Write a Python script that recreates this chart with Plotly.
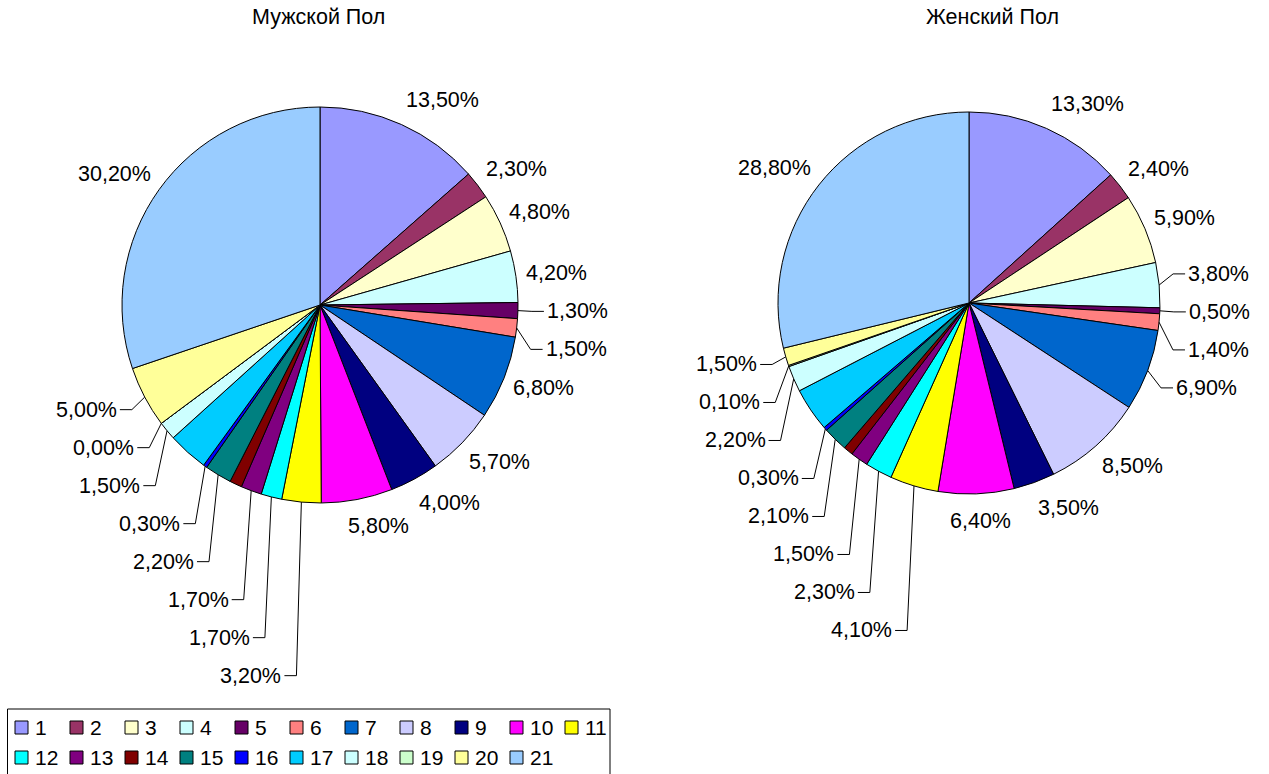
import math
import plotly.graph_objects as go

W, H = 1269, 774

# ---- data -------------------------------------------------------------
categories = ["1", "2", "3", "4", "5", "6", "7", "8", "9", "10", "11",
              "12", "13", "14", "15", "16", "17", "18", "19", "20", "21"]

male_share = [13.5, 2.3, 4.8, 4.2, 1.3, 1.5, 6.8, 5.7, 4.0, 5.8, 3.2,
              1.7, 1.7, 1.0, 2.2, 0.3, 3.3, 1.5, 0.0, 5.0, 30.2]

female_share = [13.3, 2.4, 5.9, 3.8, 0.5, 1.4, 6.9, 8.5, 3.5, 6.4, 4.1,
                2.3, 1.5, 0.8, 2.1, 0.3, 3.7, 2.2, 0.1, 1.5, 28.8]

panel_titles = ["Мужской Пол", "Женский Пол"]

# categories whose percentage is not printed next to the slice
unlabelled = ["14", "17"]

palette = ["#9999FF", "#993366", "#FFFFCC", "#CCFFFF", "#660066", "#FF8080",
           "#0066CC", "#CCCCFF", "#000080", "#FF00FF", "#FFFF00", "#00FFFF",
           "#800080", "#800000", "#008080", "#0000FF", "#00CCFF", "#CCFFFF",
           "#CCFFCC", "#FFFF99", "#99CCFF"]

# ---- layout constants (pixels) -----------------------------------------
FONT = "Liberation Sans, Arial, sans-serif"
LABEL_SIZE = 21.5
LEGEND_SIZE = 21
panels = [dict(cx=320, cy=305, r=198, tx=319),
          dict(cx=969, cy=303, r=191, tx=992)]
TITLE_Y = 17.5
LABEL_GAP = 10        # distance of label from the rim
LABEL_HALF_H = 17     # vertical half extent used for placement
ROW_STEP = 38         # minimum vertical distance between colliding labels
LEADER_SHIFT = 19     # extra horizontal offset of labels with a leader


def px_x(x):
    return x / W


def px_y(y):
    return 1 - y / H


CHAR_W = {",": 0.278, "%": 0.889, ".": 0.278}


def text_width(s, size):
    return sum(CHAR_W.get(ch, 0.556) for ch in s) * size


def fmt_pct(v):
    return f"{v:.2f}".replace(".", ",") + "%"


def place_labels(values, cx, cy, r):
    total = sum(values)
    items = []
    cum = 0.0
    for cat, v in zip(categories, values):
        th = 2 * math.pi * (cum + v / 2) / total
        cum += v
        if cat in unlabelled:
            continue
        text = fmt_pct(100 * v / total)
        s, c = math.sin(th), math.cos(th)
        R = r + LABEL_GAP
        px, py = cx + R * s, cy - R * c
        w = text_width(text, LABEL_SIZE)
        k = max(-1.0, min(1.0, s / 0.3))
        items.append(dict(text=text, s=s, c=c, w=w, px=px,
                          x=px + k * w / 2, y0=py - LABEL_HALF_H * c,
                          ex=cx + r * s, ey=cy - r * c, lead=False))
    for right in (True, False):
        group = [it for it in items if (it["s"] >= 0) == right]
        if not group:
            continue
        group.sort(key=lambda it: it["y0"])
        anchor = min(group, key=lambda it: abs(it["c"]))
        for it in group:
            it["y"] = it["y0"]
        below = [it for it in group if it["y0"] > anchor["y0"]]
        above = [it for it in group if it["y0"] < anchor["y0"]][::-1]
        for seq, sign in ((below, 1), (above, -1)):
            placed = [anchor]
            for it in seq:
                for p in placed:
                    xo = abs(it["x"] - p["x"]) < (it["w"] + p["w"]) / 2 + 4
                    if xo and sign * (p["y"] + sign * ROW_STEP - it["y"]) > 0:
                        it["y"] = p["y"] + sign * ROW_STEP
                        if abs(it["y"] - it["y0"]) > 3:
                            it["lead"] = True
                            p["lead"] = True
                placed.append(it)
    for it in items:
        if it["lead"]:
            if it["s"] >= 0:
                it["x"] = it["px"] + LEADER_SHIFT + it["w"] / 2
            else:
                it["x"] = it["px"] - LEADER_SHIFT - it["w"] / 2
    return items


fig = go.Figure()
annotations = []
shapes = []

for share, panel, title in zip([male_share, female_share], panels, panel_titles):
    cx, cy, r = panel["cx"], panel["cy"], panel["r"]
    fig.add_trace(go.Pie(
        labels=categories,
        values=share,
        sort=False,
        direction="clockwise",
        rotation=0,
        textinfo="none",
        hoverinfo="label+percent",
        showlegend=False,
        marker=dict(colors=palette, line=dict(color="#000000", width=1)),
        domain=dict(x=[px_x(cx - r), px_x(cx + r)],
                    y=[px_y(cy + r), px_y(cy - r)]),
    ))
    annotations.append(dict(
        text=title, x=px_x(panel["tx"]), y=px_y(TITLE_Y), xref="paper", yref="paper",
        xanchor="center", yanchor="middle", showarrow=False,
        font=dict(family=FONT, size=LABEL_SIZE, color="#000000"),
    ))
    for it in place_labels(share, cx, cy, r):
        annotations.append(dict(
            text=it["text"], x=px_x(it["x"]), y=px_y(it["y"]),
            xref="paper", yref="paper", xanchor="center", yanchor="middle",
            showarrow=False,
            font=dict(family=FONT, size=LABEL_SIZE, color="#000000"),
        ))
        if it["lead"]:
            d = 1 if it["s"] >= 0 else -1
            lx = it["x"] - d * (it["w"] / 2 + 3)
            bx = lx - d * 12
            path = (f"M {px_x(it['ex'])},{px_y(it['ey'])} "
                    f"L {px_x(bx)},{px_y(it['y'])} L {px_x(lx)},{px_y(it['y'])}")
            shapes.append(dict(type="path", path=path, xref="paper", yref="paper",
                               line=dict(color="#000000", width=1)))

# ---- legend (two rows of swatches in a framed box) -------------------
LEG_X0, LEG_Y0, LEG_X1 = 7.5, 709, 610
LEG_COL, LEG_ROW, LEG_PER_ROW = 55, 30, 11
LEG_FIRST_X, LEG_FIRST_Y, SW = 15, 727.5, 13

shapes.append(dict(type="rect", xref="paper", yref="paper",
                   x0=px_x(LEG_X0), x1=px_x(LEG_X1), y0=px_y(H + 5), y1=px_y(LEG_Y0),
                   line=dict(color="#000000", width=1), fillcolor="rgba(0,0,0,0)"))
for i, (cat, col) in enumerate(zip(categories, palette)):
    row, colno = divmod(i, LEG_PER_ROW)
    x0 = LEG_FIRST_X + colno * LEG_COL
    yc = LEG_FIRST_Y + row * LEG_ROW
    shapes.append(dict(type="rect", xref="paper", yref="paper",
                       x0=px_x(x0), x1=px_x(x0 + SW),
                       y0=px_y(yc + SW / 2), y1=px_y(yc - SW / 2),
                       fillcolor=col, line=dict(color="#000000", width=1)))
    annotations.append(dict(
        text=cat, x=px_x(x0 + SW + 5), y=px_y(yc), xref="paper", yref="paper",
        xanchor="left", yanchor="middle", showarrow=False,
        font=dict(family=FONT, size=LEGEND_SIZE, color="#000000"),
    ))

fig.update_layout(
    width=W, height=H,
    margin=dict(l=0, r=0, t=0, b=0),
    paper_bgcolor="#FFFFFF",
    plot_bgcolor="#FFFFFF",
    annotations=annotations,
    shapes=shapes,
    font=dict(family=FONT, color="#000000"),
)

fig.write_html("out.html")
